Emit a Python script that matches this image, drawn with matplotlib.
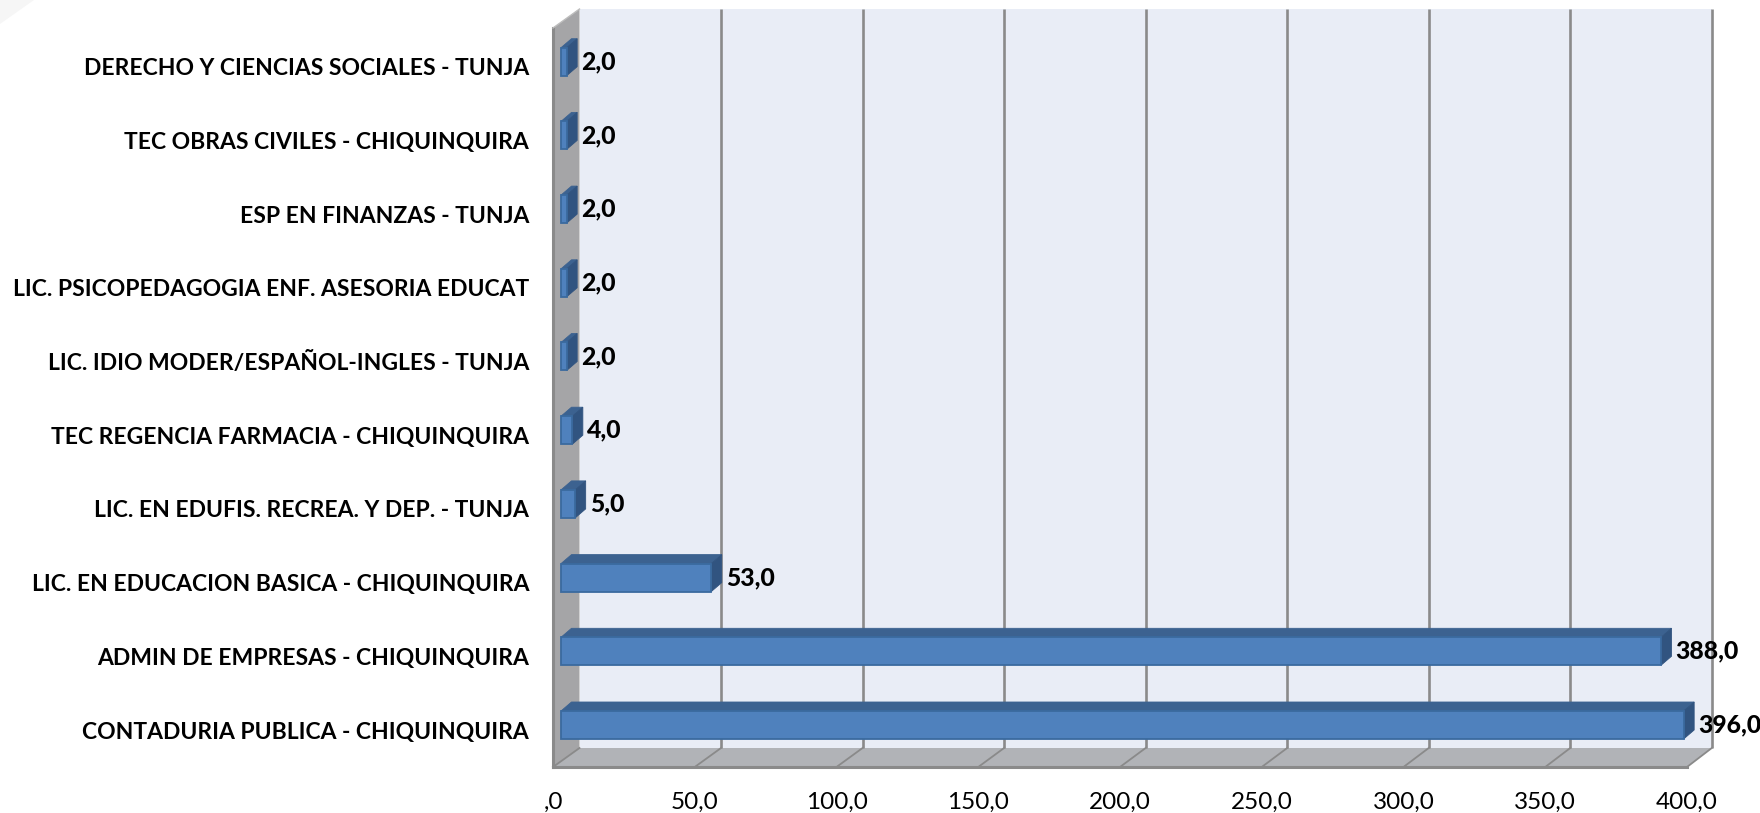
import matplotlib
matplotlib.use("Agg")
import matplotlib.pyplot as plt
from matplotlib.transforms import Affine2D
from matplotlib.patches import Polygon
import numpy as np

categories = ["CONTADURIA PUBLICA - CHIQUINQUIRA", "ADMIN DE EMPRESAS - CHIQUINQUIRA",
              "LIC. EN EDUCACION BASICA - CHIQUINQUIRA", "LIC. EN EDUFIS. RECREA. Y DEP. - TUNJA",
              "TEC REGENCIA FARMACIA - CHIQUINQUIRA", "LIC. IDIO MODER/ESPAÑOL-INGLES - TUNJA",
              "LIC. PSICOPEDAGOGIA ENF. ASESORIA EDUCAT", "ESP EN FINANZAS - TUNJA",
              "TEC OBRAS CIVILES - CHIQUINQUIRA", "DERECHO Y CIENCIAS SOCIALES - TUNJA"]
values = [396, 388, 53, 5, 4, 2, 2, 2, 2, 2]
value_labels = ["396,0", "388,0", "53,0", "5,0", "4,0", "2,0", "2,0", "2,0", "2,0", "2,0"]
x_ticks = [0, 50, 100, 150, 200, 250, 300, 350, 400]
x_tick_labels = [",0", "50,0", "100,0", "150,0", "200,0", "250,0", "300,0", "350,0", "400,0"]

W, H = 1760, 813
fig = plt.figure(figsize=(W / 100, H / 100), dpi=100, facecolor="white")
plt.rcParams["font.family"] = ["Lato", "DejaVu Sans"]
L, R, T, B = 553, 1687, 28, 767
ax = fig.add_axes([L / W, 1 - B / H, (R - L) / W, (B - T) / H])
ax.axis("off")
ax.set_xlim(0, 400)
step = 73.7
y0 = 725
ymin, ymax = (y0 - B) / step, (y0 - T) / step
ax.set_ylim(ymin, ymax)

DX, DY = 26.5, 19   # wall depth, px
ux = (R - L) / 400
dxu, dyu = DX / ux, DY / step
k = 0.9985          # back plane is very slightly narrower than the front one
back = lambda t: dxu + t * k

GRID = "#8A8A8A"
poly = lambda pts, **kw: ax.add_patch(Polygon(pts, closed=True, clip_on=False, **kw))
# back wall
poly([(back(0), ymin + dyu), (back(400), ymin + dyu), (back(400), ymax + dyu), (back(0), ymax + dyu)],
     fc="#E9EDF6", ec="none", zorder=1)
# floor
poly([(0, ymin), (400, ymin), (back(400), ymin + dyu), (back(0), ymin + dyu)],
     fc="#B1B3B7", ec="none", zorder=1)
# left wall
poly([(0, ymin), (back(0), ymin + dyu), (back(0), ymax + dyu), (0, ymax)],
     fc="#A5A5A7", ec="none", zorder=1)
# grid lines
for t in x_ticks[1:]:
    ax.plot([back(t), back(t)], [ymin + dyu, ymax + dyu], color=GRID, lw=1.9, zorder=2, clip_on=False, solid_capstyle="butt")
    ax.plot([t, back(t)], [ymin, ymin + dyu], color=GRID, lw=1.3, zorder=2, clip_on=False)
# frame
ax.plot([0, 0], [ymin, ymax], color=GRID, lw=2.2, zorder=2, clip_on=False)
ax.plot([0, back(0)], [ymax, ymax + dyu], color="#BDBDBD", lw=1, zorder=2, clip_on=False)
ax.plot([0, 400], [ymin, ymin], color=GRID, lw=2.2, zorder=2, clip_on=False)
ax.plot([0, back(0)], [ymin, ymin + dyu], color=GRID, lw=1.3, zorder=2, clip_on=False)

# bars
y = np.arange(len(values))
bh = 28 / step
off = 8 / ux
dbx, dby = 10.5 / ux, 9 / step
for i, v in zip(y, values):
    lo, hi = i - bh / 2, i + bh / 2
    poly([(off, hi), (off + v, hi), (off + v + dbx, hi + dby), (off + dbx, hi + dby)],
         fc="#3C6290", ec="#3C6290", lw=0.6, zorder=3)
    poly([(off + v, lo), (off + v + dbx, lo + dby), (off + v + dbx, hi + dby), (off + v, hi)],
         fc="#315480", ec="#315480", lw=0.6, zorder=3)
ax.barh(y, values, height=bh, left=off, color="#4F81BD", edgecolor="#3A6A9F", linewidth=1.3, zorder=4, clip_on=False)

# labels
for i, v, s in zip(y, values, value_labels):
    ax.annotate(s, (off + v, i), xytext=(14.5, 0), textcoords="offset pixels", ha="left", va="center",
                fontsize=17.8, fontweight="black", color="black", zorder=6, annotation_clip=False)
for i, s in zip(y, categories):
    ax.annotate(s, (0, i), xytext=(529 - L, -7), textcoords="offset pixels", ha="right", va="center",
                fontsize=16.5, fontweight="bold", color="black", annotation_clip=False)
for t, s in zip(x_ticks, x_tick_labels):
    ax.annotate(s, (t, ymin), xytext=(0, -35), textcoords="offset pixels", ha="center", va="center",
                fontsize=17.5, color="black", annotation_clip=False)

# faint vignette in the top-left corner of the picture
fig.add_artist(Polygon([(0, 1), (34 / W, 1), (0, 1 - 24 / H)], closed=True, transform=fig.transFigure,
                       fc="#F6F6F6", ec="none", zorder=0))

fig.savefig("out.png", dpi=100, facecolor="white")
